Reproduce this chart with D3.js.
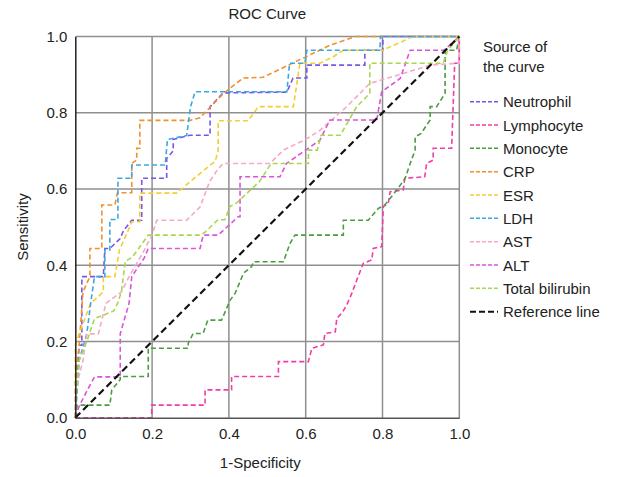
<!DOCTYPE html>
<html><head><meta charset="utf-8">
<script src="https://cdn.jsdelivr.net/npm/d3@7"></script>
<style>body{margin:0;background:#fff;} text{font-family:"Liberation Sans",Arial,Helvetica,sans-serif;fill:#222;}</style>
</head><body><svg id="c" width="641" height="477"></svg>
<script>
const seriesNames = ["Neutrophil","Lymphocyte","Monocyte","CRP","ESR","LDH","AST","ALT","Total bilirubin"];
const seriesColors = ["#7b55e8","#f23ca6","#4a9e3f","#f0912e","#f2cf33","#3aa8e0","#f7a8c8","#d955d9","#a6d84f"];
const xTicks = [0,0.2,0.4,0.6,0.8,1.0];
const yTicks = [0,0.2,0.4,0.6,0.8,1.0];

const neutrophil = [[0,0],[0.005,0.1],[0.01,0.19],[0.017,0.19],[0.017,0.37],[0.073,0.37],[0.077,0.444],[0.09,0.444],[0.117,0.47],[0.125,0.49],[0.147,0.518],[0.173,0.518],[0.173,0.628],[0.238,0.628],[0.238,0.68],[0.255,0.70],[0.255,0.73],[0.299,0.741],[0.351,0.741],[0.351,0.816],[0.385,0.852],[0.551,0.854],[0.567,0.891],[0.603,0.891],[0.603,0.925],[0.754,0.925],[0.754,0.964],[0.801,0.964],[0.801,1],[1,1]];
const lymphocyte = [[0,0],[0.199,0],[0.199,0.033],[0.338,0.033],[0.338,0.073],[0.407,0.073],[0.407,0.108],[0.529,0.108],[0.529,0.147],[0.607,0.147],[0.616,0.182],[0.646,0.191],[0.65,0.221],[0.677,0.225],[0.681,0.261],[0.694,0.274],[0.707,0.296],[0.72,0.326],[0.733,0.361],[0.75,0.405],[0.772,0.414],[0.776,0.444],[0.798,0.449],[0.802,0.554],[0.815,0.562],[0.82,0.593],[0.854,0.597],[0.858,0.628],[0.91,0.632],[0.915,0.667],[0.932,0.676],[0.932,0.707],[0.98,0.707],[0.988,0.93],[1,0.93],[1,1]];
const monocyte = [[0,0],[0.005,0.033],[0.09,0.033],[0.095,0.073],[0.117,0.1],[0.117,0.108],[0.19,0.108],[0.19,0.182],[0.294,0.182],[0.294,0.195],[0.307,0.221],[0.333,0.221],[0.345,0.256],[0.381,0.256],[0.403,0.308],[0.416,0.326],[0.42,0.335],[0.438,0.379],[0.459,0.396],[0.464,0.409],[0.542,0.409],[0.559,0.457],[0.572,0.479],[0.698,0.479],[0.698,0.518],[0.763,0.518],[0.789,0.549],[0.806,0.558],[0.837,0.597],[0.859,0.628],[0.872,0.667],[0.885,0.702],[0.885,0.737],[0.9,0.745],[0.924,0.781],[0.924,0.816],[0.941,0.816],[0.963,0.851],[0.963,0.964],[0.993,0.964],[1,1]];
const crp = [[0,0],[0,0.1],[0.01,0.19],[0.02,0.33],[0.038,0.37],[0.038,0.444],[0.069,0.444],[0.069,0.558],[0.103,0.558],[0.11,0.59],[0.147,0.59],[0.147,0.667],[0.16,0.676],[0.16,0.707],[0.168,0.707],[0.168,0.78],[0.299,0.78],[0.325,0.787],[0.385,0.85],[0.437,0.891],[0.489,0.893],[0.663,0.977],[0.73,1],[1,1]];
const esr = [[0,0],[0,0.19],[0.01,0.22],[0.04,0.3],[0.073,0.33],[0.073,0.37],[0.103,0.37],[0.115,0.44],[0.138,0.492],[0.147,0.514],[0.168,0.514],[0.168,0.589],[0.264,0.589],[0.30,0.62],[0.352,0.663],[0.364,0.672],[0.372,0.70],[0.372,0.779],[0.45,0.779],[0.477,0.816],[0.568,0.816],[0.585,0.93],[0.637,0.93],[0.672,0.947],[0.698,0.964],[0.8,0.964],[0.88,1],[1,1]];
const ldh = [[0,0],[0.005,0.07],[0.01,0.15],[0.03,0.22],[0.04,0.3],[0.05,0.37],[0.077,0.37],[0.077,0.44],[0.09,0.44],[0.09,0.52],[0.111,0.52],[0.111,0.628],[0.147,0.628],[0.147,0.663],[0.234,0.663],[0.24,0.73],[0.29,0.74],[0.30,0.815],[0.312,0.855],[0.551,0.855],[0.558,0.93],[0.598,0.93],[0.603,0.964],[0.793,0.964],[0.795,1],[1,1]];
const ast = [[0,0],[0,0.07],[0.02,0.15],[0.03,0.22],[0.06,0.22],[0.08,0.3],[0.12,0.33],[0.14,0.37],[0.18,0.44],[0.2,0.48],[0.212,0.518],[0.29,0.518],[0.325,0.553],[0.35,0.62],[0.37,0.65],[0.385,0.667],[0.507,0.667],[0.542,0.702],[0.6,0.73],[0.637,0.754],[0.707,0.816],[0.767,0.877],[0.854,0.903],[0.924,0.925],[1,0.93],[1,1]];
const alt = [[0,0],[0.01,0.03],[0.03,0.07],[0.05,0.107],[0.117,0.107],[0.117,0.22],[0.14,0.3],[0.147,0.37],[0.18,0.42],[0.19,0.444],[0.325,0.444],[0.333,0.479],[0.372,0.479],[0.424,0.527],[0.429,0.527],[0.429,0.632],[0.533,0.632],[0.55,0.667],[0.637,0.728],[0.663,0.781],[0.785,0.781],[0.798,0.855],[0.846,0.89],[0.872,0.964],[0.96,0.964],[1,1]];
const bilirubin = [[0,0],[0.005,0.1],[0.01,0.15],[0.03,0.2],[0.05,0.26],[0.1,0.28],[0.11,0.3],[0.12,0.33],[0.13,0.41],[0.147,0.42],[0.165,0.444],[0.19,0.479],[0.325,0.479],[0.336,0.485],[0.37,0.518],[0.39,0.52],[0.403,0.555],[0.416,0.56],[0.459,0.6],[0.48,0.62],[0.51,0.667],[0.607,0.667],[0.607,0.702],[0.63,0.702],[0.64,0.741],[0.69,0.741],[0.733,0.816],[0.767,0.851],[0.767,0.93],[0.958,0.93],[0.97,0.964],[1,1]];
const referenceLine = [[0,0],[1,1]];
const seriesData = [neutrophil,lymphocyte,monocyte,crp,esr,ldh,ast,alt,bilirubin];

const svg = d3.select("#c");
const L = 75.3, R = 459.3, T = 36.5, B = 417.7;
const x = d3.scaleLinear().domain([0,1]).range([L,R]);
const y = d3.scaleLinear().domain([0,1]).range([B,T]);

// grid
const grid = svg.append("g");
grid.selectAll("line.v").data(xTicks.slice(1)).enter().append("line")
  .attr("x1",d=>x(d)).attr("x2",d=>x(d)).attr("y1",T).attr("y2",B)
  .attr("stroke","#8f8f8f").attr("stroke-width",1.5);
grid.selectAll("line.h").data(yTicks.slice(1)).enter().append("line")
  .attr("x1",L).attr("x2",R).attr("y1",d=>y(d)).attr("y2",d=>y(d))
  .attr("stroke","#8f8f8f").attr("stroke-width",1.5);

const line = d3.line().x(d=>x(d[0])).y(d=>y(d[1]));
const g = svg.append("g");
seriesData.forEach((s,i)=>{
  g.append("path").datum(s).attr("d",line).attr("fill","none")
   .attr("stroke",seriesColors[i]).attr("stroke-width",1.6).attr("stroke-dasharray","5,3");
});
g.append("path").datum(referenceLine).attr("d",line).attr("fill","none")
  .attr("stroke","#111").attr("stroke-width",2.2).attr("stroke-dasharray","7,4");

// axes
const xAxis = d3.axisBottom(x).tickValues(xTicks).tickFormat(d3.format(".1f")).tickSize(0).tickPadding(8);
const yAxis = d3.axisLeft(y).tickValues(yTicks).tickFormat(d3.format(".1f")).tickSize(0).tickPadding(8);
const gx = svg.append("g").attr("transform",`translate(0,${B})`).call(xAxis);
const gy = svg.append("g").attr("transform",`translate(${L},0)`).call(yAxis);
gx.select(".domain").attr("stroke","#555").attr("stroke-width",1.5);
gy.select(".domain").attr("stroke","#222").attr("stroke-width",1.5);
[gx,gy].forEach(a=>a.selectAll("text").attr("font-size",15).attr("fill","#222").style("font-family","Liberation Sans, Arial, sans-serif"));
gx.selectAll("text").attr("dy","0.9em");

svg.append("text").attr("x",(L+R)/2).attr("y",19).attr("text-anchor","middle").attr("font-size",15).text("ROC Curve");
svg.append("text").attr("x",(L+R)/2-7).attr("y",468).attr("text-anchor","middle").attr("font-size",15).text("1-Specificity");
svg.append("text").attr("transform",`translate(28,${(T+B)/2}) rotate(-90)`).attr("text-anchor","middle").attr("font-size",15).text("Sensitivity");

// legend
const lg = svg.append("g");
lg.append("text").attr("x",483).attr("y",52).attr("font-size",15).text("Source of");
lg.append("text").attr("x",483).attr("y",72).attr("font-size",15).text("the curve");
const legNames = seriesNames.concat(["Reference line"]);
const legColors = seriesColors.concat(["#111"]);
legNames.forEach((n,i)=>{
  const yy = 101.7 + i*23.33;
  lg.append("line").attr("x1",470).attr("x2",498).attr("y1",yy).attr("y2",yy)
    .attr("stroke",legColors[i]).attr("stroke-width",i===9?2:1.5).attr("stroke-dasharray",i===9?"6,3":"4,2");
  lg.append("text").attr("x",503).attr("y",yy+5.5).attr("font-size",15).text(n);
});
</script></body></html>
